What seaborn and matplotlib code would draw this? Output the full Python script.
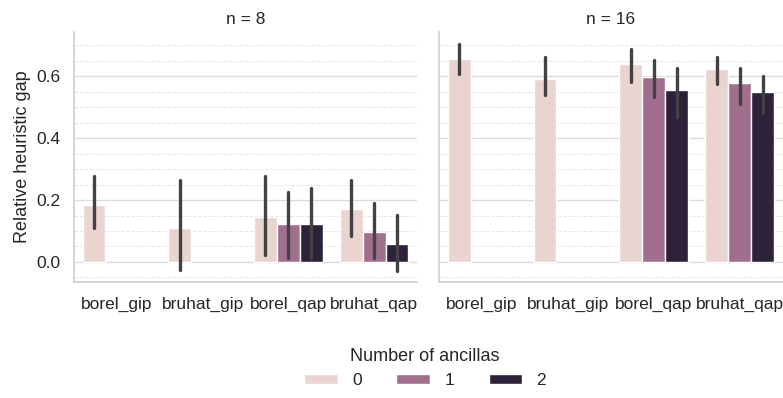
import numpy as np
import pandas as pd
import matplotlib
matplotlib.use("Agg")
import matplotlib.pyplot as plt
from matplotlib.ticker import MultipleLocator
import seaborn as sns

# ---- data ----
circuits = ["borel_gip", "bruhat_gip", "borel_qap", "bruhat_qap"]
ancillas = [0, 1, 2]
panels = [8, 16]

bar_circuit = ["borel_gip", "bruhat_gip", "borel_qap", "borel_qap", "borel_qap",
               "bruhat_qap", "bruhat_qap", "bruhat_qap"]
bar_ancilla = [0, 0, 0, 1, 2, 0, 1, 2]

mean_n8 = [0.184, 0.109, 0.145, 0.121, 0.121, 0.171, 0.097, 0.059]
low_n8 = [0.110, -0.026, 0.023, 0.012, 0.012, 0.085, 0.012, -0.028]
high_n8 = [0.277, 0.265, 0.277, 0.227, 0.240, 0.265, 0.189, 0.152]

mean_n16 = [0.655, 0.592, 0.640, 0.596, 0.556, 0.623, 0.577, 0.550]
low_n16 = [0.606, 0.539, 0.581, 0.533, 0.469, 0.573, 0.509, 0.481]
high_n16 = [0.704, 0.660, 0.686, 0.652, 0.626, 0.660, 0.626, 0.600]

series = {8: (mean_n8, low_n8, high_n8), 16: (mean_n16, low_n16, high_n16)}

rows = []
for n in panels:
    m, lo, hi = series[n]
    for c, a, mv, lv, hv in zip(bar_circuit, bar_ancilla, m, lo, hi):
        for v in (lv, mv, hv):
            rows.append({"n": n, "circuit": c, "ancilla": a, "gap": v})
df = pd.DataFrame(rows)

# ---- style ----
sns.set_theme(style="whitegrid")
plt.rcParams["font.family"] = ["Liberation Sans", "DejaVu Sans"]
FS = 12.5

fig = plt.figure(figsize=(7.83, 3.98), dpi=100)
ax1 = fig.add_axes([0.0945, 0.2915, 0.438, 0.628])
ax2 = fig.add_axes([0.5607, 0.2915, 0.439, 0.628], sharey=ax1)

palette = sns.cubehelix_palette(as_cmap=True)

for ax, n in zip([ax1, ax2], panels):
    sub = df[df["n"] == n]
    sns.barplot(data=sub, x="circuit", y="gap", hue="ancilla",
                order=circuits, hue_order=ancillas, palette=palette,
                estimator="median", errorbar=lambda v: (v.min(), v.max()),
                err_kws={"linewidth": 2.4, "color": ".26"},
                ax=ax, legend=(n == 8))
    ax.set_title(f"n = {n}", fontsize=FS)
    ax.set_xlabel("")
    ax.tick_params(axis="x", labelsize=FS, pad=5)
    ax.tick_params(axis="y", labelsize=FS)
    ax.grid(axis="x", visible=False)
    ax.yaxis.set_major_locator(MultipleLocator(0.2))
    ax.yaxis.set_minor_locator(MultipleLocator(0.05))
    ax.grid(axis="y", which="major", color="#dcdcdc", linewidth=1.0)
    ax.grid(axis="y", which="minor", color="#e6e6e6", linestyle="--", linewidth=0.7)
    ax.set_axisbelow(True)
    for s in ("top", "right"):
        ax.spines[s].set_visible(False)
    for s in ("left", "bottom"):
        ax.spines[s].set_color("#d0d0d0")
        ax.spines[s].set_linewidth(1.2)

ax1.set_ylim(-0.0645, 0.742)
ax1.set_ylabel("Relative heuristic gap", fontsize=FS + 0.5)
ax2.set_ylabel("")
ax2.tick_params(axis="y", labelleft=False)

handles, labels = ax1.get_legend_handles_labels()
ax1.get_legend().remove()
fig.legend(handles, labels, title="Number of ancillas", loc="lower center",
           bbox_to_anchor=(0.543, -0.015), ncol=3, frameon=False,
           fontsize=FS, title_fontsize=FS + 0.5, handlelength=1.95,
           handleheight=0.5, handletextpad=0.8, columnspacing=2.0)

fig.savefig("out.png", dpi=100)
